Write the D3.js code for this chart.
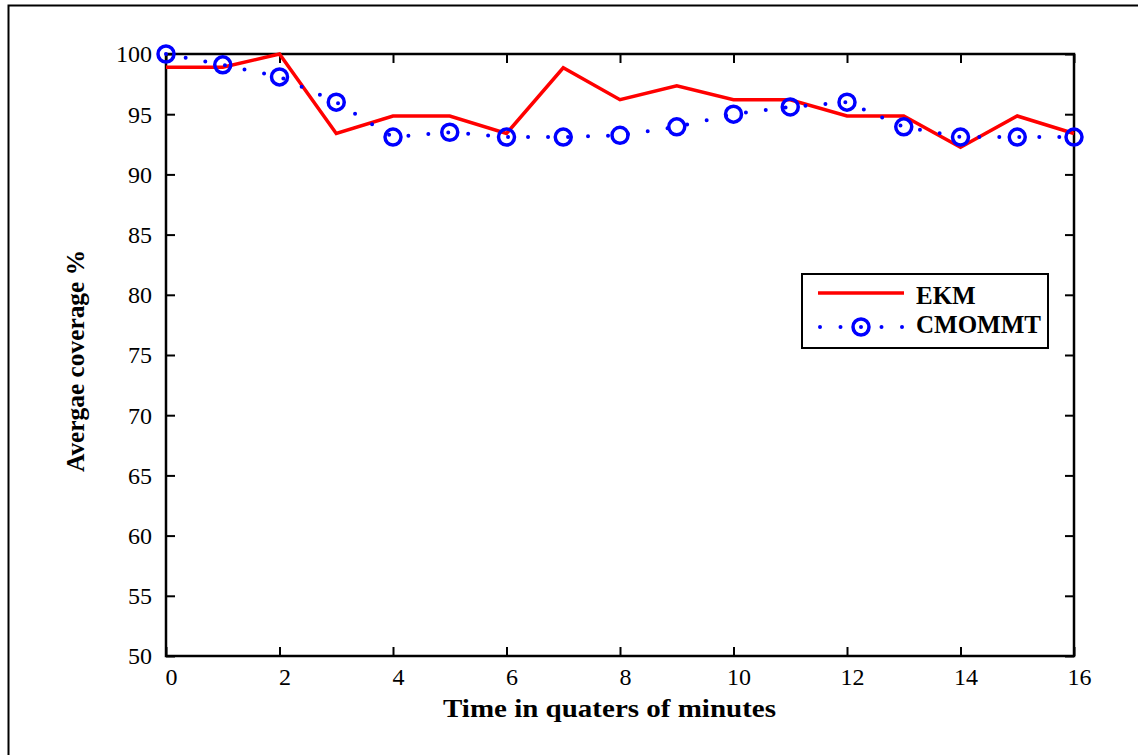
<!DOCTYPE html>
<html>
<head>
<meta charset="utf-8">
<script src="https://cdn.jsdelivr.net/npm/d3@7"></script>
<style>
  html, body { margin: 0; padding: 0; background: #fff; }
  svg { display: block; }
  text { font-family: "Liberation Serif", "Times New Roman", serif; }
</style>
</head>
<body>
<svg id="chart" width="1138" height="755"></svg>
<script>
// Time steps (quarters of minutes)
const timeSteps = [0, 1, 2, 3, 4, 5, 6, 7, 8, 9, 10, 11, 12, 13, 14, 15, 16];
// Average coverage (%) per method
const ekmValues    = [98.9, 98.9, 100, 93.4, 94.85, 94.85, 93.4, 98.85, 96.2, 97.35, 96.2, 96.2, 94.85, 94.85, 92.25, 94.85, 93.4];
const cmommtValues = [100, 99.1, 98.1, 96.0, 93.1, 93.5, 93.1, 93.1, 93.25, 93.95, 95.0, 95.6, 96.0, 93.95, 93.1, 93.1, 93.1];
const xTickValues = [0, 2, 4, 6, 8, 10, 12, 14, 16];
const yTickValues = [50, 55, 60, 65, 70, 75, 80, 85, 90, 95, 100];
const seriesNames = ["EKM", "CMOMMT"];

const svg = d3.select("#chart");
const plot = { left: 166, right: 1074, top: 54, bottom: 656 };

const x = d3.scaleLinear().domain([0, 16]).range([plot.left, plot.right]);
const y = d3.scaleLinear().domain([50, 100]).range([plot.bottom, plot.top]);

// outer figure frame (top and left edges)
svg.append("path")
  .attr("d", "M8.5,760 L8.5,5.5 L1140,5.5")
  .attr("fill", "none").attr("stroke", "#000").attr("stroke-width", 2);

const tickLen = 9;
const tickFont = 24;

// bottom axis with inward ticks
const xAxisBottom = svg.append("g")
  .attr("transform", `translate(0,${plot.bottom})`)
  .call(d3.axisBottom(x).tickValues(xTickValues).tickSizeInner(-tickLen).tickSizeOuter(0).tickPadding(12));
// top axis ticks (no labels)
const xAxisTop = svg.append("g")
  .attr("transform", `translate(0,${plot.top})`)
  .call(d3.axisTop(x).tickValues(xTickValues).tickSizeInner(-tickLen).tickSizeOuter(0).tickFormat(""));
// left axis
const yAxisLeft = svg.append("g")
  .attr("transform", `translate(${plot.left},0)`)
  .call(d3.axisLeft(y).tickValues(yTickValues).tickSizeInner(-tickLen).tickSizeOuter(0).tickPadding(14));
// right axis ticks
const yAxisRight = svg.append("g")
  .attr("transform", `translate(${plot.right},0)`)
  .call(d3.axisRight(y).tickValues(yTickValues).tickSizeInner(-tickLen).tickSizeOuter(0).tickFormat(""));

[xAxisBottom, xAxisTop, yAxisLeft, yAxisRight].forEach(g => {
  g.select(".domain").remove();
  g.selectAll(".tick line").attr("stroke", "#000").attr("stroke-width", 2);
  g.selectAll(".tick text").attr("fill", "#000").attr("font-size", tickFont)
    .style("font-family", '"Liberation Serif", "Times New Roman", serif');
});
xAxisBottom.selectAll(".tick text").attr("dy", "0.71em").attr("dx", 5);
yAxisLeft.selectAll(".tick text").attr("dy", "0.33em");

// plot box
svg.append("rect")
  .attr("x", plot.left).attr("y", plot.top)
  .attr("width", plot.right - plot.left).attr("height", plot.bottom - plot.top)
  .attr("fill", "none").attr("stroke", "#000").attr("stroke-width", 2.5);

// axis titles
svg.append("text")
  .attr("x", 609.5).attr("y", 717)
  .attr("text-anchor", "middle").attr("font-size", 25).attr("font-weight", "bold")
  .attr("textLength", 333).attr("lengthAdjust", "spacingAndGlyphs")
  .text("Time in quaters of minutes");
svg.append("text")
  .attr("transform", `translate(84,361) rotate(-90)`)
  .attr("text-anchor", "middle").attr("font-size", 25).attr("font-weight", "bold")
  .attr("textLength", 222).attr("lengthAdjust", "spacingAndGlyphs")
  .text("Avergae coverage %");

const line = d3.line().x((d, i) => x(timeSteps[i])).y(d => y(d));

// EKM series: solid red line
svg.append("path")
  .datum(ekmValues)
  .attr("d", line)
  .attr("fill", "none").attr("stroke", "#ff0000").attr("stroke-width", 3.5)
  .attr("stroke-linejoin", "miter");

// CMOMMT series: dotted blue line with ring markers
svg.append("path")
  .datum(cmommtValues)
  .attr("d", line)
  .attr("fill", "none").attr("stroke", "#0000ff").attr("stroke-width", 4)
  .attr("stroke-linecap", "round").attr("stroke-dasharray", "0,20");

svg.append("g").selectAll("circle")
  .data(cmommtValues)
  .join("circle")
  .attr("cx", (d, i) => x(timeSteps[i]))
  .attr("cy", d => y(d))
  .attr("r", 8)
  .attr("fill", "none").attr("stroke", "#0000ff").attr("stroke-width", 3.5);

// legend
const legend = svg.append("g");
legend.append("rect")
  .attr("x", 802).attr("y", 274).attr("width", 246).attr("height", 74)
  .attr("fill", "#fff").attr("stroke", "#000").attr("stroke-width", 2);
legend.append("line")
  .attr("x1", 818).attr("x2", 904).attr("y1", 293).attr("y2", 293)
  .attr("stroke", "#ff0000").attr("stroke-width", 3.5);
legend.append("line")
  .attr("x1", 820).attr("x2", 904).attr("y1", 327).attr("y2", 327)
  .attr("stroke", "#0000ff").attr("stroke-width", 4)
  .attr("stroke-linecap", "round").attr("stroke-dasharray", "0,20.5");
legend.append("circle")
  .attr("cx", 861).attr("cy", 327).attr("r", 8)
  .attr("fill", "none").attr("stroke", "#0000ff").attr("stroke-width", 3.5);
legend.selectAll("text.lbl")
  .data(seriesNames)
  .join("text")
  .attr("class", "lbl")
  .attr("x", 916).attr("y", (d, i) => 304 + i * 29)
  .attr("font-size", 25).attr("font-weight", "bold")
  .text(d => d);
</script>
</body>
</html>
